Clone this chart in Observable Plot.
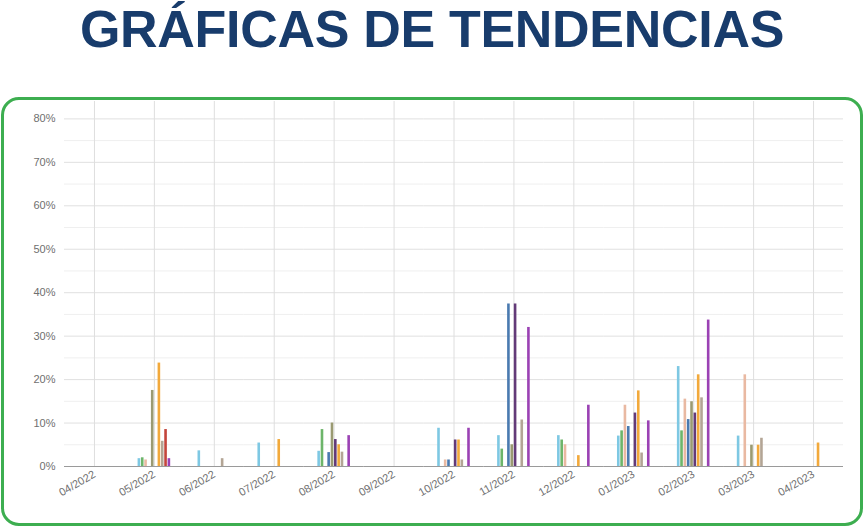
<!DOCTYPE html>
<html><head><meta charset="utf-8">
<script src="https://cdn.jsdelivr.net/npm/d3@7"></script>
<script src="https://cdn.jsdelivr.net/npm/@observablehq/plot@0.6"></script>
<style>
body{margin:0;width:864px;height:528px;background:#fff;position:relative;overflow:hidden;font-family:"Liberation Sans",Arial,sans-serif}
h1{position:absolute;top:0;left:0;width:864px;margin:0;text-align:center;font-size:52px;line-height:58px;letter-spacing:-0.3px;color:#183c6c;font-weight:bold;}
#box{position:absolute;left:1px;top:97px;width:856px;height:423px;border:3px solid #3dae50;border-radius:18px;}
#chart{position:absolute;left:0;top:101px;}
</style></head><body>
<h1>GRÁFICAS DE TENDENCIAS</h1>
<div id="box"></div>
<div id="chart"></div>
<script>
const months = ["04/2022","05/2022","06/2022","07/2022","08/2022","09/2022","10/2022","11/2022","12/2022","01/2023","02/2023","03/2023","04/2023"];
const seriesNames = ["Serie 1","Serie 2","Serie 3","Serie 4","Serie 5","Serie 6","Serie 7","Serie 8","Serie 9","Serie 10"];
const seriesColors = ["#7ec8e3","#6db56a","#e9b9a2","#4a7ab0","#9a9a72","#633a78","#f2a93b","#b3a595","#c4453b","#9b42b4"];
const yTicks = [0,0.1,0.2,0.3,0.4,0.5,0.6,0.7,0.8];
const yMinorTicks = [0.05,0.15,0.25,0.35,0.45,0.55,0.65,0.75];

// values in %
const serie1  = [0, 1.8, 3.6, 5.4, 3.5, 0, 8.8, 7.1, 7.1, 7.0, 23.0, 7.0, 0];
const serie2  = [0, 2.0, 0, 0, 8.5, 0, 0, 4.0, 6.1, 8.2, 8.2, 0, 0];
const serie3  = [0, 1.5, 0, 0, 0, 0, 1.5, 0, 5.0, 14.1, 15.5, 21.1, 0];
const serie4  = [0, 0, 0, 0, 3.2, 0, 1.5, 37.4, 0, 9.2, 10.8, 0, 0];
const serie5  = [0, 17.5, 0, 0, 10.0, 0, 0, 5.0, 0, 0, 14.9, 4.9, 0];
const serie6  = [0, 0, 0, 0, 6.2, 0, 6.1, 37.4, 0, 12.3, 12.3, 0, 0];
const serie7  = [0, 23.8, 0, 6.2, 5.0, 0, 6.1, 0, 2.5, 17.4, 21.1, 4.9, 5.4];
const serie8  = [0, 5.8, 1.8, 0, 3.3, 0, 1.5, 10.7, 0, 3.1, 15.8, 6.5, 0];
const serie9  = [0, 8.5, 0, 0, 0, 0, 0, 0, 0, 0, 0, 0, 0];
const serie10 = [0, 1.8, 0, 0, 7.1, 0, 8.8, 32.0, 14.1, 10.5, 33.7, 0, 0];

const allSeries = [serie1,serie2,serie3,serie4,serie5,serie6,serie7,serie8,serie9,serie10];
const data = [];
allSeries.forEach((vals, si) => vals.forEach((v, mi) => {
  data.push({month: months[mi], serie: seriesNames[si], value: v / 100});
}));

const chart = Plot.plot({
  width: 864, height: 425,
  marginLeft: 64, marginRight: 21, marginTop: 0, marginBottom: 60,
  style: {fontFamily: "'Liberation Sans', Arial, sans-serif", fontSize: "11px", color: "#6f6f6f", background: "transparent"},
  fx: {domain: months, padding: 0, round: false, label: null, tickRotate: -30, tickSize: 0, tickPadding: 7},
  x: {domain: seriesNames, axis: null, round: false, paddingInner: 0.22, paddingOuter: 4.1},
  y: {domain: [0, 0.84], ticks: yTicks, tickFormat: d => Math.round(d * 100) + "%", tickSize: 0, tickPadding: 9, label: null},
  color: {domain: seriesNames, range: seriesColors},
  marks: [
    Plot.gridY(yMinorTicks, {stroke: "#efefef", strokeOpacity: 1}),
    Plot.gridY(yTicks, {stroke: "#e0e0e0", strokeOpacity: 1}),
    Plot.ruleX([0], {x: null, stroke: "#dedede", strokeOpacity: 1}),
    Plot.barY(data, {fx: "month", x: "serie", y: "value", fill: "serie"}),
    Plot.ruleY([0], {stroke: "#9a9a9a", strokeWidth: 1.2})
  ]
});
document.getElementById("chart").appendChild(chart);
</script>
</body></html>
